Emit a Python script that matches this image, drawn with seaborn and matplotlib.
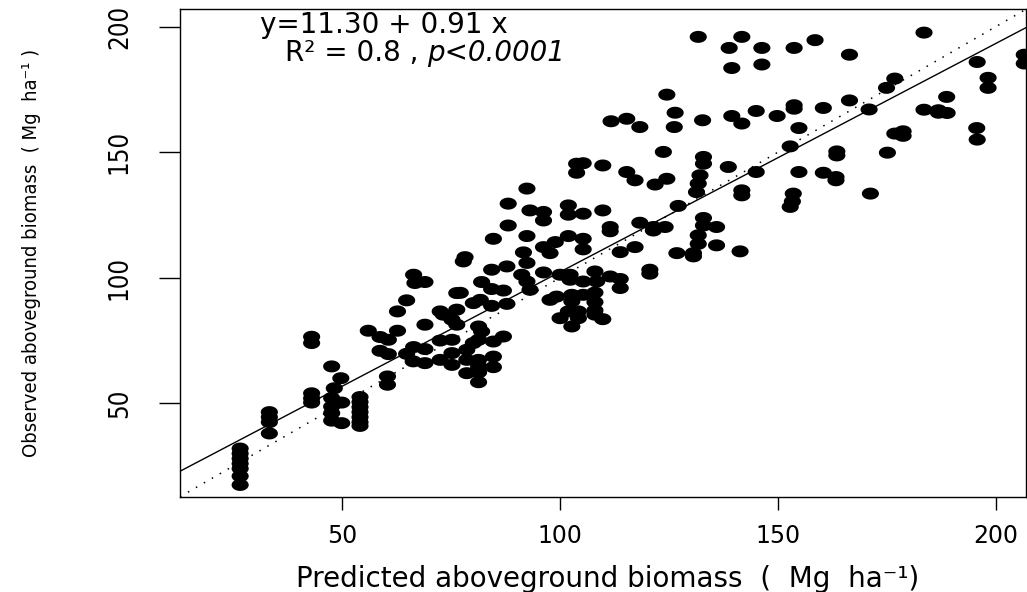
import numpy as np
import pandas as pd
import matplotlib
matplotlib.use("Agg")
import matplotlib.pyplot as plt
import seaborn as sns
from matplotlib.path import Path
from matplotlib.markers import MarkerStyle
from matplotlib import font_manager

# ---------------- data ----------------
predicted = [
    26.6, 26.6, 26.6, 26.6, 26.6, 26.6, 26.6,
    33.3, 33.3, 33.3, 33.3,
    43.0, 43.0, 43.0, 43.0, 43.0,
    47.6, 49.7, 48.2, 47.6, 49.9, 47.6, 47.6, 47.6, 49.9,
    54.1, 54.1, 54.1, 54.1, 54.1, 54.1, 54.1,
    60.4, 60.4, 56.0, 58.7, 60.6, 58.7, 60.6, 62.7, 62.7, 64.8,
    66.4, 66.7, 69.0, 69.0, 64.8, 66.4, 69.0, 66.3, 69.0, 72.5,
    73.2, 76.3, 76.3, 77.8, 78.2, 75.2, 76.3, 72.5, 75.2, 72.5,
    75.2, 75.2, 78.6, 78.6, 78.6,
    84.3, 87.8, 91.6, 97.7, 92.4, 91.2, 92.4, 96.2, 93.1, 82.0,
    84.3, 87.0, 77.1, 81.7, 80.1, 84.3, 87.8, 81.3, 82.0, 87.0,
    84.7, 80.1, 81.3, 81.3, 84.7, 81.3, 84.7, 81.3, 81.3,
    100.0, 102.3, 102.3, 105.3, 108.0, 108.4, 111.5, 113.8, 113.8, 108.0,
    105.3, 102.7, 99.2, 97.7, 102.7, 108.0, 101.9, 104.2, 108.0, 108.0,
    100.0, 104.2, 109.8, 102.7, 120.6, 120.6, 126.8, 130.6, 130.6, 141.3,
    131.7, 141.7, 138.8, 139.4, 124.5, 126.4, 126.2, 132.7, 139.4, 141.7,
    111.7, 115.3, 118.3, 123.7, 103.8, 105.3, 103.8, 109.8, 115.3, 117.2,
    121.8, 124.5, 132.9, 132.9, 132.1, 131.7, 131.3, 138.6, 141.7, 141.7,
    92.4, 88.1, 93.1, 96.2, 96.2, 101.9, 101.9, 105.3, 109.8, 88.1,
    111.5, 111.5, 118.3, 121.4, 121.4, 124.1, 127.1, 84.7, 92.4, 96.2,
    98.9, 101.9, 105.3, 105.3, 113.8, 117.2, 132.9, 132.9, 135.9, 131.7,
    131.7, 135.9,
    146.3, 146.3, 153.7, 158.5, 166.4, 183.5, 195.7, 198.2, 198.2, 206.5,
    206.5, 176.8, 174.9, 188.7, 183.5, 186.8, 186.8, 188.8, 166.4, 170.9,
    160.4, 153.7, 153.7, 145.0, 149.8, 154.8, 195.6, 195.7, 176.8, 178.7,
    178.7, 152.8, 163.5, 163.5, 175.1, 145.0, 154.8, 160.4, 163.3, 163.3,
    153.5, 153.3, 152.8, 171.2,
]
observed = [
    32.0, 30.0, 28.0, 26.0, 24.0, 21.0, 17.5,
    46.5, 44.5, 42.5, 38.0,
    76.5, 74.0, 54.0, 52.0, 50.3,
    64.7, 60.0, 56.0, 52.1, 50.3, 48.7, 46.1, 43.1, 42.1,
    52.5, 50.5, 48.5, 46.5, 44.5, 42.5, 41.0,
    60.7, 57.4, 78.9, 76.4, 75.3, 70.9, 69.6, 78.9, 86.6, 91.0,
    101.2, 97.9, 98.3, 81.3, 69.7, 72.4, 71.6, 66.7, 66.0, 86.6,
    85.3, 93.9, 87.3, 106.5, 108.2, 83.3, 81.3, 75.0, 75.3, 67.3,
    65.3, 70.0, 71.3, 62.0, 67.3,
    103.2, 104.5, 110.1, 109.8, 105.9, 101.2, 98.5, 102.1, 95.2, 98.3,
    95.5, 94.9, 94.0, 91.2, 89.9, 88.8, 89.6, 80.6, 78.6, 76.6,
    74.6, 74.0, 75.3, 67.3, 68.6, 64.7, 64.4, 62.3, 58.4,
    101.2, 101.2, 99.2, 98.5, 102.5, 98.5, 100.5, 99.5, 95.9, 94.1,
    93.2, 93.2, 92.5, 91.2, 90.6, 90.3, 86.6, 86.6, 87.0, 85.3,
    83.9, 83.9, 83.5, 80.6, 103.2, 101.6, 109.8, 109.8, 108.5, 110.5,
    195.9, 195.9, 191.5, 183.5, 172.9, 165.7, 160.0, 162.7, 164.4, 161.4,
    162.3, 163.3, 160.0, 150.1, 145.4, 145.6, 141.8, 144.7, 142.1, 138.8,
    137.1, 139.4, 148.1, 145.4, 140.8, 137.5, 134.1, 144.1, 134.8, 132.8,
    135.5, 129.5, 126.8, 126.2, 122.8, 128.8, 125.1, 125.5, 126.8, 120.8,
    120.2, 118.5, 121.9, 120.2, 118.8, 120.2, 128.6, 115.5, 116.6, 112.2,
    114.2, 116.6, 115.5, 111.3, 110.2, 112.2, 123.8, 120.8, 120.2, 116.9,
    113.5, 112.9,
    191.5, 184.9, 191.5, 194.6, 188.8, 197.6, 185.9, 179.6, 175.6, 188.8,
    185.3, 179.3, 175.6, 172.0, 166.9, 166.7, 165.7, 165.6, 170.6, 167.0,
    167.6, 168.7, 167.3, 166.4, 164.4, 159.6, 159.6, 155.0, 157.4, 158.3,
    156.5, 152.3, 150.3, 148.7, 149.8, 142.1, 142.1, 141.8, 140.1, 138.8,
    133.5, 130.4, 128.2, 133.5,
]
fit_intercept = 11.30
fit_slope = 0.91
x_ticks = [50, 100, 150, 200]
y_ticks = [50, 100, 150, 200]
x_tick_labels = ["50", "100", "150", "200"]
y_tick_labels = ["50", "100", "150", "200"]
eq_text = "y=11.30 + 0.91 x"
r2_text = "R² = 0.8 , "
p_text = "p<0.0001"
x_label = "Predicted aboveground biomass  (  Mg  ha⁻¹)"
y_label = "Observed aboveground biomass  ( Mg  ha⁻¹ )"

# ---------------- style ----------------
sns.set_theme(style="white")
plt.rcParams['font.family'] = ['DejaVu Sans']
for k in ['text.color', 'axes.labelcolor', 'xtick.color', 'ytick.color',
          'axes.edgecolor']:
    plt.rcParams[k] = 'black'

# condensed face for the rotated (vertical) texts
narrow_fp = font_manager.FontProperties(family='DejaVu Sans', stretch='condensed')

W, H = 1027, 592
fig = plt.figure(figsize=(W / 100, H / 100), dpi=100)
fig.patch.set_facecolor('white')
L, R, T, B = 180, 1026, 9, 497
ax = fig.add_axes([L / W, 1 - B / H, (R - L) / W, (B - T) / H])
ax.set_facecolor('white')

# elliptical filled marker (reference dots are wider than tall)
theta = np.linspace(0, 2 * np.pi, 64)
ell = Path(np.column_stack([np.cos(theta), 0.70 * np.sin(theta)]), closed=True)
marker = MarkerStyle(ell)

df = pd.DataFrame({'pred': predicted, 'obs': observed})
sns.scatterplot(data=df, x='pred', y='obs', marker=marker, s=152,
                color='black', edgecolor='none', linewidth=0, ax=ax, zorder=3)

ax.axline((0, fit_intercept), slope=fit_slope, color='black', lw=1.0, zorder=2)
ax.axline((0, 0), slope=1, color='black', lw=1.1, ls=(0, (1, 5)), zorder=2)

ax.set_xlim(12.8, 206.9)
ax.set_ylim(12.7, 207.0)

for sp in ax.spines.values():
    sp.set_visible(True)
    sp.set_color('black')
    sp.set_linewidth(1.0)

ax.set_xticks(x_ticks)
ax.set_xticklabels(x_tick_labels, fontsize=17)
ax.set_yticks(y_ticks)
ax.set_yticklabels(y_tick_labels, rotation=90, va='center', ha='right')
for lab in ax.get_yticklabels():
    lab.set_fontproperties(narrow_fp)
    lab.set_fontsize(18.5)
ax.tick_params(axis='x', direction='out', length=9.4, width=1.0, color='black',
               pad=10, bottom=True)
ax.tick_params(axis='y', direction='out', length=15, width=1.0, color='black',
               pad=19, left=True)

ax.set_xlabel(x_label, fontsize=20, va='center')
ax.xaxis.set_label_coords((608 - L) / (R - L), (B - 579) / (B - T))
ax.set_ylabel(y_label, va='center')
ax.yaxis.label.set_fontproperties(narrow_fp)
ax.yaxis.label.set_fontsize(14.5)
ax.yaxis.set_label_coords((32 - L) / (R - L), 0.5)

t1 = ax.text(31.2, 197.6, eq_text, ha='left', va='baseline', fontsize=20,
             color='black')
t2 = ax.text(36.9, 186.1, r2_text, ha='left', va='baseline', fontsize=20,
             color='black')
ax.annotate(p_text, xy=(1, 0), xycoords=t2, ha='left', va='bottom',
            fontsize=20, style='italic', color='black')

fig.savefig('out.png', dpi=100, facecolor='white')
